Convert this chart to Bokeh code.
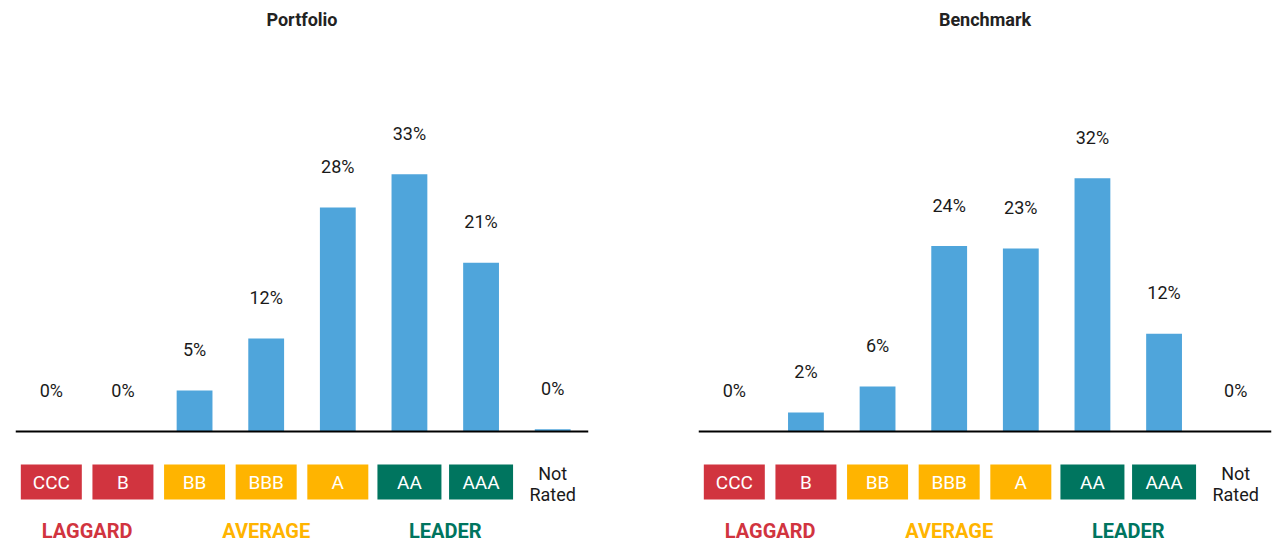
from bokeh.plotting import figure
from bokeh.layouts import row
from bokeh.models import Range1d, Span, ColumnDataSource
from bokeh.core.properties import value
from bokeh.embed import file_html
from bokeh.resources import INLINE

# ---- data ----
categories = ["CCC", "B", "BB", "BBB", "A", "AA", "AAA", "Not Rated"]
portfolio = [0.0, 0.0, 5.2, 11.8, 28.4, 32.6, 21.4, 0.3]
benchmark = [0.0, 2.4, 5.7, 23.5, 23.2, 32.1, 12.4, 0.0]
groups = ["LAGGARD", "AVERAGE", "LEADER"]
group_members = [["CCC", "B"], ["BB", "BBB", "A"], ["AA", "AAA"]]
group_colors = ["#D1343F", "#FFB400", "#00755F"]

# ---- style / layout ----
FONT = value("Roboto")
BAR_COLOR = "#4FA5DB"
TEXT_COLOR = "#1A1A1A"
H = 541          # canvas height
BASE = 431       # canvas y of the zero line
SCALE = 7.89     # px per percentage point
BOX_W = {"CCC": 61, "B": 61, "BB": 61, "BBB": 61, "A": 61, "AA": 64, "AAA": 64}


def ypx(c):
    """data y for a canvas pixel row"""
    return (BASE - c) / SCALE


def panel(title, values, width, left, right):
    n = len(categories)
    idx = list(range(n))
    p = figure(width=width, height=H,
               x_range=Range1d(-0.5, n - 0.5),
               y_range=Range1d(ypx(H), ypx(0)),
               x_axis_location=None, y_axis_location=None,
               output_backend="svg", toolbar_location=None,
               min_border_left=left, min_border_right=right,
               min_border_top=0, min_border_bottom=0)
    p.grid.visible = False
    p.outline_line_color = None
    p.background_fill_color = "white"
    p.border_fill_color = "white"

    # title
    p.text(x=[(n - 1) / 2], y=[ypx(19)], text=[title],
           text_font=FONT, text_font_style="bold", text_font_size="18px",
           text_color="#222222", text_align="center", text_baseline="middle")

    # bars
    src = ColumnDataSource(dict(x=idx, top=values,
                                label=[f"{round(v)}%" for v in values]))
    p.vbar(x="x", top="top", bottom=0, width=0.5, source=src,
           fill_color=BAR_COLOR, line_color=None)
    p.text(x="x", y="top", text="label", source=src, y_offset=-41,
           text_font=FONT, text_font_size="18px", text_color=TEXT_COLOR,
           text_align="center", text_baseline="middle")

    # zero line
    p.add_layout(Span(location=0, dimension="width", line_color="black",
                      line_width=2))

    # rating boxes
    col_of = {}
    for g, members, c in zip(groups, group_members, group_colors):
        for m in members:
            col_of[m] = c
    rated = [c for c in categories if c in col_of]
    bx = [categories.index(c) for c in rated]
    bsrc = ColumnDataSource(dict(x=bx, text=rated,
                                 color=[col_of[c] for c in rated],
                                 w=[BOX_W[c] for c in rated]))
    p.rect(x="x", y=ypx(481.5), width="w", height=35,
           width_units="screen", height_units="screen",
           fill_color="color", line_color=None, source=bsrc)
    p.text(x="x", y=ypx(481.5), text="text", source=bsrc,
           text_font=FONT, text_font_size="19px", text_color="white",
           text_align="center", text_baseline="middle")

    # unrated label
    unrated = [c for c in categories if c not in col_of]
    p.text(x=[categories.index(c) for c in unrated], y=ypx(483),
           text=[c.replace(" ", "\n") for c in unrated],
           text_font=FONT, text_font_size="18px", text_color=TEXT_COLOR,
           text_align="center", text_baseline="middle", text_line_height=1.0)

    # group labels
    gx = [sum(categories.index(m) for m in ms) / len(ms) for ms in group_members]
    gsrc = ColumnDataSource(dict(x=gx, text=groups, color=group_colors))
    p.text(x="x", y=ypx(530), text="text", text_color="color", source=gsrc,
           text_font=FONT, text_font_style="bold", text_font_size="20px",
           text_align="center", text_baseline="middle")
    return p


p1 = panel("Portfolio", portfolio, width=691, left=15, right=103)
p2 = panel("Benchmark", benchmark, width=586, left=7, right=6)
p = row(p1, p2, spacing=0)

open("out.html", "w").write(file_html(p, INLINE))
